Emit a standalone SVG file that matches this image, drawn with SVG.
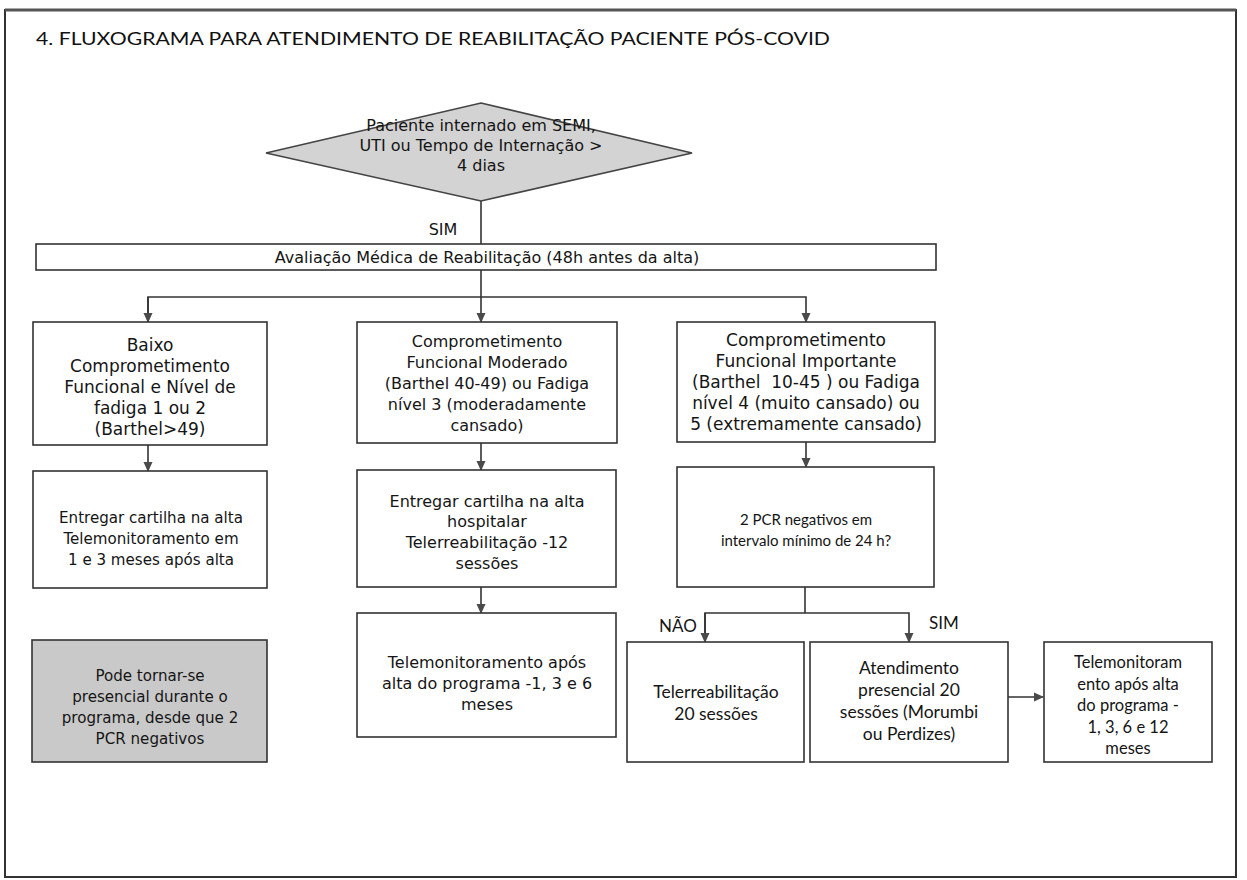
<svg xmlns="http://www.w3.org/2000/svg" width="1247" height="880" viewBox="0 0 1247 880">
<style>
  .box { fill: #ffffff; stroke: #333333; stroke-width: 1.6; }
  .grey { fill: #c9c9c9; stroke: #333333; stroke-width: 1.6; }
  .dia { fill: #d3d3d3; stroke: #444444; stroke-width: 1.6; }
  .t { font-family: "DejaVu Sans", "Open Sans", sans-serif; font-size: 16px; fill: #151515; text-anchor: middle; }
  .t15 { font-size: 15.1px; }
  .t17 { font-size: 17px; }
  .c { font-family: Lato, "Liberation Sans", sans-serif; font-size: 16.5px; fill: #151515; text-anchor: middle; }
  .c15 { font-size: 15px; }
  .c17 { font-size: 17.5px; }
  .lbl { font-family: Lato, "Liberation Sans", sans-serif; font-size: 17px; fill: #151515; }
  .con { fill: none; stroke: #333333; stroke-width: 1.6; }
</style>
<defs>
  <marker id="arr" viewBox="0 0 10 10" refX="9" refY="5" markerWidth="10" markerHeight="10" orient="auto" markerUnits="userSpaceOnUse">
    <path d="M0,0.5 L10,5 L0,9.5 z" fill="#4a4a4a"/>
  </marker>
</defs>
<rect x="0" y="0" width="1247" height="880" fill="#ffffff"/>
<g id="frame">
  <rect x="5" y="10" width="1231" height="867" fill="none" stroke="#333333" stroke-width="2"/>
  <line x1="5" y1="10" x2="1236" y2="10" stroke="#555555" stroke-width="3"/>
</g>
<g id="title">
  <text x="36" y="45" font-family="Lato, 'Liberation Sans', sans-serif" font-size="18" fill="#111111" textLength="794" lengthAdjust="spacingAndGlyphs">4. FLUXOGRAMA PARA ATENDIMENTO DE REABILITAÇÃO PACIENTE PÓS-COVID</text>
</g>
<g id="connectors">
  <line class="con" x1="481" y1="201" x2="481" y2="244"/>
  <text class="t" x="443" y="235">SIM</text>
  <line class="con" x1="481" y1="270" x2="481" y2="322" marker-end="url(#arr)"/>
  <polyline class="con" points="148,322 148,297 806,297 806,322" marker-end="url(#arr)"/>
  <line class="con" x1="148" y1="297" x2="148" y2="322" marker-end="url(#arr)"/>
  <line class="con" x1="148" y1="445" x2="148" y2="471" marker-end="url(#arr)"/>
  <line class="con" x1="481" y1="443" x2="481" y2="470" marker-end="url(#arr)"/>
  <line class="con" x1="806" y1="442" x2="806" y2="467" marker-end="url(#arr)"/>
  <line class="con" x1="481" y1="587" x2="481" y2="613" marker-end="url(#arr)"/>
  <line class="con" x1="805" y1="587" x2="805" y2="613"/>
  <polyline class="con" points="705,642 705,613 909,613 909,642" marker-end="url(#arr)"/>
  <line class="con" x1="705" y1="613" x2="705" y2="642" marker-end="url(#arr)"/>
  <line class="con" x1="1008" y1="697" x2="1043" y2="697" marker-end="url(#arr)"/>
  <text class="lbl" x="659" y="632">NÃO</text>
  <text class="lbl" x="929" y="629">SIM</text>
</g>
<g id="n-diamond">
  <polygon class="dia" points="481,103 692,153 481,201 266,153"/>
  <text class="t" x="481" y="131">Paciente internado em SEMI,</text>
  <text class="t" x="481" y="151">UTI ou Tempo de Internação &gt;</text>
  <text class="t" x="481" y="171">4 dias</text>
</g>
<g id="n-avaliacao">
  <rect class="box" x="36" y="244" width="900" height="26"/>
  <text class="t" x="487" y="263" font-size="16.5">Avaliação Médica de Reabilitação (48h antes da alta)</text>
</g>
<g id="n-baixo">
  <rect class="box" x="33" y="322" width="234" height="123"/>
  <text class="t t17" x="150" y="351">Baixo</text>
  <text class="t t17" x="150" y="372">Comprometimento</text>
  <text class="t t17" x="150" y="393">Funcional e Nível de</text>
  <text class="t t17" x="150" y="414">fadiga 1 ou 2</text>
  <text class="t t17" x="150" y="435">(Barthel&gt;49)</text>
</g>
<g id="n-moderado">
  <rect class="box" x="357" y="322" width="260" height="121"/>
  <text class="t" x="487" y="347">Comprometimento</text>
  <text class="t" x="487" y="368">Funcional Moderado</text>
  <text class="t" x="487" y="389">(Barthel 40-49) ou Fadiga</text>
  <text class="t" x="487" y="410">nível 3 (moderadamente</text>
  <text class="t" x="487" y="431">cansado)</text>
</g>
<g id="n-importante">
  <rect class="box" x="677" y="322" width="258" height="120"/>
  <text class="t t17" x="806" y="346">Comprometimento</text>
  <text class="t t17" x="806" y="367">Funcional Importante</text>
  <text class="t t17" x="806" y="388" xml:space="preserve">(Barthel  10-45 ) ou Fadiga</text>
  <text class="t t17" x="806" y="409">nível 4 (muito cansado) ou</text>
  <text class="t t17" x="806" y="430">5 (extremamente cansado)</text>
</g>
<g id="n-cartilha1">
  <rect class="box" x="33" y="471" width="234" height="117"/>
  <text class="t t15" x="151" y="523">Entregar cartilha na alta</text>
  <text class="t t15" x="151" y="544">Telemonitoramento em</text>
  <text class="t t15" x="151" y="565">1 e 3 meses após alta</text>
</g>
<g id="n-cartilha2">
  <rect class="box" x="357" y="470" width="259" height="117"/>
  <text class="t" x="487" y="507">Entregar cartilha na alta</text>
  <text class="t" x="487" y="527">hospitalar</text>
  <text class="t" x="487" y="548">Telerreabilitação -12</text>
  <text class="t" x="487" y="569">sessões</text>
</g>
<g id="n-telemon2">
  <rect class="box" x="357" y="613" width="259" height="124"/>
  <text class="t" x="487" y="668">Telemonitoramento após</text>
  <text class="t" x="487" y="689">alta do programa -1, 3 e 6</text>
  <text class="t" x="487" y="710">meses</text>
</g>
<g id="n-pode">
  <rect class="grey" x="32" y="640" width="235" height="122"/>
  <text class="t t15" x="150" y="681">Pode tornar-se</text>
  <text class="t t15" x="150" y="702">presencial durante o</text>
  <text class="t t15" x="150" y="723">programa, desde que 2</text>
  <text class="t t15" x="150" y="744">PCR negativos</text>
</g>
<g id="n-pcr">
  <rect class="box" x="677" y="467" width="257" height="120"/>
  <text class="c c15" x="806" y="525">2 PCR negativos em</text>
  <text class="c c15" x="806" y="546">intervalo mínimo de 24 h?</text>
</g>
<g id="n-telerreab">
  <rect class="box" x="627" y="642" width="177" height="120"/>
  <text class="c c17" x="716" y="698">Telerreabilitação</text>
  <text class="c c17" x="716" y="720">20 sessões</text>
</g>
<g id="n-presencial">
  <rect class="box" x="810" y="642" width="198" height="120"/>
  <text class="c c17" x="909" y="674">Atendimento</text>
  <text class="c c17" x="909" y="696">presencial 20</text>
  <text class="c c17" x="909" y="718">sessões (Morumbi</text>
  <text class="c c17" x="909" y="740">ou Perdizes)</text>
</g>
<g id="n-telemon3">
  <rect class="box" x="1044" y="642" width="168" height="120"/>
  <text class="c" x="1128" y="668">Telemonitoram</text>
  <text class="c" x="1128" y="690">ento após alta</text>
  <text class="c" x="1128" y="711">do programa -</text>
  <text class="c" x="1128" y="733">1, 3, 6 e 12</text>
  <text class="c" x="1128" y="754">meses</text>
</g>
</svg>
